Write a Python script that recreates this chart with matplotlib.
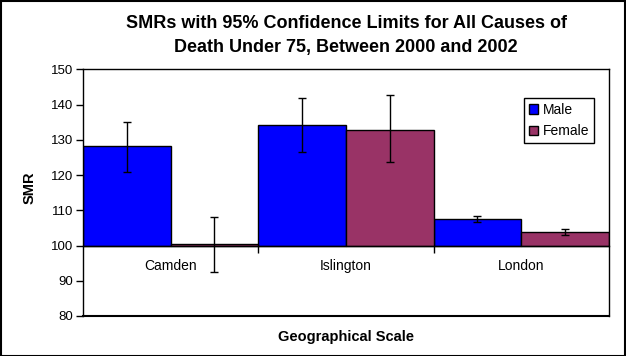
import numpy as np
import matplotlib.pyplot as plt
from matplotlib.patches import Rectangle

plt.rcParams['font.family'] = ['Liberation Sans', 'DejaVu Sans']

## data
categories = ["Camden", "Islington", "London"]
male_smr = [128.1, 134.3, 107.4]
male_low = [120.9, 126.6, 106.6]
male_high = [135.1, 141.9, 108.3]
female_smr = [100.3, 132.8, 103.7]
female_low = [92.5, 123.7, 102.9]
female_high = [108.1, 142.8, 104.6]

base = 100
yticks = [80, 90, 100, 110, 120, 130, 140, 150]
title_lines = ["SMRs with 95% Confidence Limits for All Causes of",
               "Death Under 75, Between 2000 and 2002"]


def err(vals, low, high):
    vals, low, high = np.array(vals), np.array(low), np.array(high)
    return [vals - low, high - vals]


fig = plt.figure(figsize=(6.26, 3.56), dpi=100)
ax = fig.add_axes([0.1326, 0.1124, 0.8402, 0.6929])

x = np.arange(len(categories))
w = 0.5
male_h = np.array(male_smr) - base
female_h = np.array(female_smr) - base
ax.bar(x - w / 2, male_h, w, bottom=base, color="#0000FF",
       edgecolor="black", linewidth=1, label="Male", zorder=2)
ax.bar(x + w / 2, female_h, w, bottom=base, color="#993366",
       edgecolor="black", linewidth=1, label="Female", zorder=2)
ax.errorbar(x - w / 2, male_smr, yerr=err(male_smr, male_low, male_high),
            fmt="none", ecolor="black", elinewidth=1, capsize=3, capthick=1,
            zorder=3)
ax.errorbar(x + w / 2, female_smr,
            yerr=err(female_smr, female_low, female_high),
            fmt="none", ecolor="black", elinewidth=1, capsize=3, capthick=1,
            zorder=3)

ax.set_xlim(-0.5, 2.5)
ax.set_ylim(80, 150)
ax.set_yticks(yticks)
ax.tick_params(axis="y", direction="out", length=5, width=1,
               labelsize=9.5, pad=2)

## category axis crosses at 100
ax.spines["bottom"].set_position(("data", base))
ax.set_xticks([0.5, 1.5])
ax.set_xticklabels([])
ax.set_xticks(x, minor=True)
ax.set_xticklabels(categories, minor=True)
ax.tick_params(axis="x", which="major", direction="out", length=5, width=1)
ax.tick_params(axis="x", which="minor", length=0, labelsize=10, pad=10)
ax.axhline(80, color="black", linewidth=1.5, clip_on=False, zorder=4)
for s in ax.spines.values():
    s.set_linewidth(1)
    s.set_color("black")

fig.text(0.048, 0.472, "SMR", ha="center", va="center", rotation=90,
         fontsize=10.5, fontweight="bold")
fig.text(0.553, 0.042, "Geographical Scale", ha="center", va="baseline",
         fontsize=10.5, fontweight="bold")
fig.text(0.553, 0.9205, title_lines[0], ha="center", va="baseline",
         fontsize=13, fontweight="bold")
fig.text(0.553, 0.855, title_lines[1], ha="center", va="baseline",
         fontsize=13, fontweight="bold")

leg = ax.legend(loc="upper left", bbox_to_anchor=(0.838, 0.884),
                fontsize=10, fancybox=False, framealpha=1, edgecolor="black",
                handlelength=0.7, handleheight=0.7, handletextpad=0.3,
                borderpad=0.35, labelspacing=0.55, borderaxespad=0)
leg.get_frame().set_linewidth(1)

fig.patches.append(Rectangle((0.001, 0.001), 0.998, 0.997,
                             transform=fig.transFigure, fill=False,
                             edgecolor="black", linewidth=1.5))

fig.savefig("out.png", dpi=100)
